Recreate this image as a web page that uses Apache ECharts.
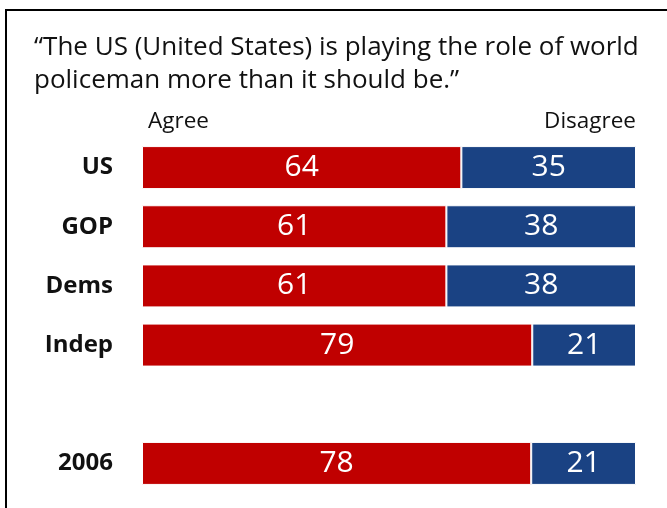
<!DOCTYPE html>
<html><head><meta charset="utf-8">
<script src="https://cdn.jsdelivr.net/npm/echarts@6/dist/echarts.min.js"></script>
<style>html,body{margin:0;padding:0;background:#fff}#c{width:667px;height:508px}</style>
</head><body><div id="c"></div>
<script>
const titleLines = ['\u201CThe US (United States) is playing the role of world', 'policeman more than it should be.\u201D'];
const categories = ['US', 'GOP', 'Dems', 'Indep', '', '2006'];
const agree = [64, 61, 61, 79, null, 78];
const disagree = [35, 38, 38, 21, null, 21];
const seriesNames = ['Agree', 'Disagree'];

const FONT = '"Open Sans", sans-serif';
const share = (a, b, v) => (v == null ? null : v / (a + b) * 100);
const agreeShare = agree.map((v, i) => share(agree[i], disagree[i], v));
const disShare = disagree.map((v, i) => share(agree[i], disagree[i], v));

const chart = echarts.init(document.getElementById('c'), null, {renderer: 'canvas'});
const labelCfg = (src) => ({
  show: true, position: 'inside', color: '#fff', fontSize: 30, fontFamily: FONT,
  formatter: p => src[p.dataIndex] == null ? '' : String(src[p.dataIndex])
});
chart.setOption({
  animation: false,
  backgroundColor: '#fff',
  grid: {left: 142, right: 31, top: 138, bottom: 15, containLabel: false},
  xAxis: {type: 'value', min: 0, max: 100, show: false},
  yAxis: {
    type: 'category', data: categories, inverse: true,
    axisLine: {show: false}, axisTick: {show: false}, splitLine: {show: false},
    axisLabel: {color: '#111', fontSize: 24, fontWeight: 'bold', fontFamily: FONT, margin: 29}
  },
  series: [
    {name: seriesNames[0], type: 'bar', stack: 't', data: agreeShare, barWidth: 43,
     itemStyle: {color: '#C00000', borderColor: '#fff', borderWidth: 1}, label: labelCfg(agree)},
    {name: seriesNames[1], type: 'bar', stack: 't', data: disShare, barWidth: 43,
     itemStyle: {color: '#1A4283', borderColor: '#fff', borderWidth: 1}, label: labelCfg(disagree)}
  ],
  graphic: [
    {type: 'line', shape: {x1: 5, y1: 10, x2: 667, y2: 10}, style: {stroke: '#000', lineWidth: 2}},
    {type: 'line', shape: {x1: 6, y1: 9, x2: 6, y2: 508}, style: {stroke: '#000', lineWidth: 2}},
    {type: 'text', style: {x: 34, y: 48, verticalAlign: 'middle', text: titleLines[0], font: '26px ' + FONT, fill: '#111'}},
    {type: 'text', style: {x: 34, y: 81, verticalAlign: 'middle', text: titleLines[1], font: '26px ' + FONT, fill: '#111'}},
    {type: 'text', style: {x: 148, y: 122, verticalAlign: 'middle', text: seriesNames[0], font: '22.5px ' + FONT, fill: '#111'}},
    {type: 'text', style: {x: 636, y: 122, align: 'right', verticalAlign: 'middle', text: seriesNames[1], font: '22.5px ' + FONT, fill: '#111'}}
  ]
});
</script></body></html>
